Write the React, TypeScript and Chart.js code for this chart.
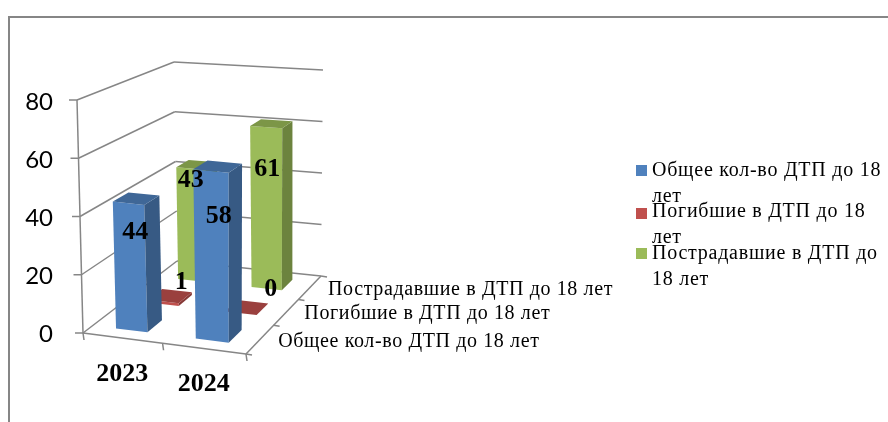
import React, { useEffect, useRef } from "react";
import { Chart, registerables } from "chart.js";

Chart.register(...registerables);

const categories = ["2023", "2024"];
const seriesTotal = [44, 58];
const seriesDead = [1, 0];
const seriesInjured = [43, 61];
const seriesNames = [
  "Общее кол-во ДТП до 18 лет",
  "Погибшие в ДТП до 18 лет",
  "Пострадавшие в ДТП до 18 лет",
];
const legendLines = [
  ["Общее кол-во ДТП до 18", "лет"],
  ["Погибшие в ДТП до 18", "лет"],
  ["Пострадавшие в ДТП до", "18 лет"],
];
const yTicks = { min: 0, max: 80, step: 20 };

type P = [number, number];

const FRONT = ["#4F81BD", "#C0504D", "#9BBB59"];
const TOPF = ["#3F6797", "#9A403E", "#7C9647"];
const SIDE = ["#375A84", "#863836", "#6C833E"];
const GRID = "#868686";
const SERIF = '"Liberation Serif"';

// Perspective frame of the 3D box: corners of the floor and of the ceiling.
function makeHomography(p0: P, p1: P, p2: P, p3: P) {
  const dx1 = p1[0] - p2[0], dx2 = p3[0] - p2[0], sx = p0[0] - p1[0] + p2[0] - p3[0];
  const dy1 = p1[1] - p2[1], dy2 = p3[1] - p2[1], sy = p0[1] - p1[1] + p2[1] - p3[1];
  const den = dx1 * dy2 - dx2 * dy1;
  const g = (sx * dy2 - dx2 * sy) / den;
  const h = (dx1 * sy - sx * dy1) / den;
  const a = p1[0] - p0[0] + g * p1[0], b = p3[0] - p0[0] + h * p3[0], c = p0[0];
  const d = p1[1] - p0[1] + g * p1[1], e = p3[1] - p0[1] + h * p3[1], f = p0[1];
  return (u: number, v: number): P => {
    const w = g * u + h * v + 1;
    return [(a * u + b * v + c) / w, (d * u + e * v + f) / w];
  };
}
const floorH = makeHomography([83, 333], [246, 354], [321, 276], [177, 261]);
const ceilH = makeHomography([77, 100], [249, 116], [323, 70], [174, 62]);

const BAR_HALF_U = 0.1;
const BAR_HALF_D = 0.075;
const labelOffsets: P[][] = [
  [[-1, 34], [1, 50]],
  [[11, -14], [24, -18]],
  [[-6, 16], [-4, 46]],
];

const box3d = {
  id: "box3d",
  beforeDatasetsDraw(chart: any) {
    const { ctx, scales } = chart;
    const ys = scales.y;
    const xs = scales.x;
    const tOf = (val: number) => (ys.bottom - ys.getPixelForValue(val)) / (ys.bottom - ys.top);
    const proj = (u: number, d: number, val: number): P => {
      const t = tOf(val);
      const a = floorH(u, d), b = ceilH(u, d);
      return [a[0] + (b[0] - a[0]) * t, a[1] + (b[1] - a[1]) * t];
    };
    const line = (a: P, b: P) => {
      ctx.beginPath();
      ctx.moveTo(a[0], a[1]);
      ctx.lineTo(b[0], b[1]);
      ctx.stroke();
    };
    const poly = (pts: P[], fill: string) => {
      ctx.beginPath();
      pts.forEach((p, i) => (i ? ctx.lineTo(p[0], p[1]) : ctx.moveTo(p[0], p[1])));
      ctx.closePath();
      ctx.fillStyle = fill;
      ctx.fill();
    };
    ctx.save();
    // outer frame
    ctx.strokeStyle = GRID;
    ctx.lineWidth = 2;
    ctx.beginPath();
    ctx.moveTo(9, 422);
    ctx.lineTo(9, 17);
    ctx.lineTo(888, 17);
    ctx.stroke();

    // walls and floor
    ctx.strokeStyle = GRID;
    ctx.lineWidth = 1.5;
    const tickVals: number[] = ys.ticks.map((t: any) => t.value);
    tickVals.forEach((val) => {
      const fl = proj(0, 0, val), bl = proj(0, 1, val), br = proj(1, 1, val);
      line(fl, bl);
      line(bl, br);
      line([fl[0] - 8, fl[1]], fl);
    });
    line(proj(0, 0, yTicks.min), proj(0, 0, yTicks.max));
    line(proj(0, 0, 0), proj(1, 0, 0));
    line(proj(1, 0, 0), proj(1, 1, 0));
    [0, 0.5, 1].forEach((u) => {
      const a = proj(u, 0, 0);
      line(a, [a[0] + 1, a[1] + 7]);
    });
    [0, 1 / 3, 2 / 3, 1].forEach((d) => {
      const a = proj(1, d, 0);
      line(a, [a[0] + 6, a[1] + 1]);
    });

    // bars, back row first
    const uOf = (i: number) => (xs.getPixelForValue(i) - xs.left) / (xs.right - xs.left);
    const dOf = (s: number) => (s + 0.5) / seriesNames.length;
    for (let s = chart.data.datasets.length - 1; s >= 0; s--) {
      const values: number[] = chart.data.datasets[s].data;
      values.forEach((val, i) => {
        const u = uOf(i), d = dOf(s);
        const u0 = u - BAR_HALF_U, u1 = u + BAR_HALF_U;
        const d0 = d - BAR_HALF_D, d1 = d + BAR_HALF_D;
        poly([proj(u0, d0, 0), proj(u1, d0, 0), proj(u1, d0, val), proj(u0, d0, val)], FRONT[s]);
        poly([proj(u1, d0, 0), proj(u1, d1, 0), proj(u1, d1, val), proj(u1, d0, val)], SIDE[s]);
        poly([proj(u0, d0, val), proj(u1, d0, val), proj(u1, d1, val), proj(u0, d1, val)], TOPF[s]);
      });
    }
    ctx.restore();
    return false;
  },
  afterDraw(chart: any) {
    const { ctx, scales } = chart;
    const ys = scales.y;
    const xs = scales.x;
    const tOf = (val: number) => (ys.bottom - ys.getPixelForValue(val)) / (ys.bottom - ys.top);
    const proj = (u: number, d: number, val: number): P => {
      const t = tOf(val);
      const a = floorH(u, d), b = ceilH(u, d);
      return [a[0] + (b[0] - a[0]) * t, a[1] + (b[1] - a[1]) * t];
    };
    const uOf = (i: number) => (xs.getPixelForValue(i) - xs.left) / (xs.right - xs.left);
    const dOf = (s: number) => (s + 0.5) / seriesNames.length;
    ctx.save();
    ctx.textBaseline = "middle";
    ctx.fillStyle = "#000";

    // value labels
    ctx.font = `bold 26px ${SERIF}`;
    ctx.textAlign = "center";
    chart.data.datasets.forEach((ds: any, s: number) => {
      ds.data.forEach((val: number, i: number) => {
        const p = proj(uOf(i), dOf(s), val);
        const o = labelOffsets[s][i];
        ctx.fillText(String(val), p[0] + o[0], p[1] + o[1]);
      });
    });

    // category labels
    chart.data.labels.forEach((lab: string, i: number) => {
      const p = proj(uOf(i), 0, 0);
      ctx.fillText(lab, p[0] + 0, p[1] + 36);
    });

    // depth labels
    ctx.font = `20px ${SERIF}`;
    (ctx as any).letterSpacing = "0.62px";
    ctx.textAlign = "left";
    seriesNames.forEach((name, s) => {
      const p = proj(1, dOf(s), 0);
      ctx.fillText(name, p[0] + 18, p[1] + 2);
    });

    // legend
    (ctx as any).letterSpacing = "0.75px";
    const legendSwatchY = [165, 208, 248];
    const legendRows: number[][] = [
      [171, 197],
      [212, 238],
      [254, 280],
    ];
    legendLines.forEach((lines, s) => {
      ctx.fillStyle = FRONT[s];
      ctx.fillRect(636, legendSwatchY[s], 11, 11);
      ctx.fillStyle = "#000";
      lines.forEach((ln, k) => ctx.fillText(ln, 652, legendRows[s][k]));
    });
    (ctx as any).letterSpacing = "0px";
    ctx.restore();
  },
};

export default function App() {
  const ref = useRef<HTMLCanvasElement>(null);
  useEffect(() => {
    if (!ref.current) return;
    const chart = new Chart(ref.current, {
      type: "bar",
      data: {
        labels: categories,
        datasets: [
          { label: seriesNames[0], data: seriesTotal, backgroundColor: FRONT[0] },
          { label: seriesNames[1], data: seriesDead, backgroundColor: FRONT[1] },
          { label: seriesNames[2], data: seriesInjured, backgroundColor: FRONT[2] },
        ],
      },
      options: {
        responsive: false,
        animation: false,
        events: [],
        layout: { padding: { top: 102, bottom: 88, right: 567, left: 0 } },
        plugins: { legend: { display: false }, tooltip: { enabled: false } },
        scales: {
          x: { display: false, offset: true, grid: { display: false } },
          y: {
            min: yTicks.min,
            max: yTicks.max,
            grid: { display: false, drawTicks: false },
            border: { display: false },
            ticks: {
              stepSize: yTicks.step,
              padding: 30,
              color: "#000",
              font: { family: "Lato", size: 24 },
            },
            afterFit(scale: any) {
              scale.width = 83;
            },
          },
        },
      },
      plugins: [box3d],
    } as any);
    return () => chart.destroy();
  }, []);
  return (
    <canvas
      ref={ref}
      width={888}
      height={422}
      style={{ position: "fixed", left: 0, top: 0, display: "block", width: 888, height: 422 }}
    />
  );
}
